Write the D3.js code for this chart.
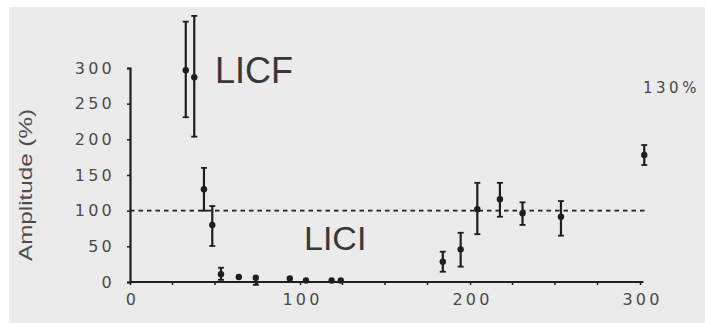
<!DOCTYPE html>
<html>
<head>
<meta charset="utf-8">
<script src="https://cdn.jsdelivr.net/npm/d3@7/dist/d3.min.js"></script>
<style>
  html, body { margin: 0; padding: 0; background: #fff; }
  svg { display: block; }
</style>
</head>
<body>
<svg id="chart" width="705" height="323"></svg>
<script>
// Interstimulus interval (ms) for each measurement
const intervals  = [32.8, 37.8, 43.5, 48.4, 53.5, 64, 74, 94, 103.5, 118.6, 124, 184, 194.5, 204.3, 217.6, 230.9, 253.5, 302.5];
// Mean amplitude (% of test response)
const amplitudes = [297, 287, 130, 80, 11, 7, 6, 5, 2, 2, 2, 28.5, 45.8, 102, 116, 96.3, 91.5, 178];
// Upper and lower ends of each error bar
const errHigh    = [365, 373, 160, 106.5, 20, 10, 9, 7, 3, 3, 3, 42.5, 69, 139, 139, 111.7, 113.5, 192];
const errLow     = [231, 203.7, 100, 50.5, 3, 4, -4, 3, 1, 1, 1, 14.4, 21.5, 67, 91.5, 80, 65, 164];

const xTicks = [0, 100, 200, 300];
const xMinorTicks = [25, 50, 75, 125, 150, 175, 225, 250, 275];
const yTicks = [0, 50, 100, 150, 200, 250, 300];
const baseline = 100;

const svg = d3.select("#chart");

// panel background
svg.append("rect")
  .attr("x", 9).attr("y", 7).attr("width", 696).attr("height", 316)
  .attr("fill", "#ebebeb");

const x = d3.scaleLinear().domain([0, 300]).range([130, 640]);
const y = d3.scaleLinear().domain([0, 300]).range([282, 68]);

const ink = "#1e1e1e";
const tickFont = "'DejaVu Sans', sans-serif";

// y axis
const yAxis = svg.append("g")
  .attr("transform", `translate(${x(0)},0)`)
  .call(d3.axisLeft(y).tickValues(yTicks).tickSize(3).tickPadding(12));
yAxis.select(".domain").attr("stroke", ink).attr("stroke-width", 2.2);
yAxis.selectAll(".tick line").attr("stroke", ink).attr("stroke-width", 1.5);
yAxis.selectAll(".tick text")
  .attr("font-family", tickFont).attr("font-size", 16)
  .attr("letter-spacing", 3.2).attr("fill", "#4a4a4a");

// x axis
const xAxis = svg.append("g")
  .attr("transform", `translate(0,${y(0)})`)
  .call(d3.axisBottom(x).tickValues(xTicks).tickSize(3).tickPadding(9));
xAxis.select(".domain").remove();
xAxis.append("line")
  .attr("x1", x(0)).attr("x2", x(302))
  .attr("stroke", ink).attr("stroke-width", 2);
xAxis.selectAll(".tick line").attr("stroke", ink).attr("stroke-width", 1.5);
xAxis.selectAll(".tick text")
  .attr("font-family", tickFont).attr("font-size", 16)
  .attr("letter-spacing", 3.2).attr("fill", "#4a4a4a")
  .attr("dx", 2);
xAxis.selectAll(".minor")
  .data(xMinorTicks).enter().append("line")
  .attr("x1", d => x(d)).attr("x2", d => x(d))
  .attr("y1", 0).attr("y2", 3)
  .attr("stroke", ink).attr("stroke-width", 1.5);

// 100% reference line
svg.append("line")
  .attr("x1", x(0)).attr("x2", x(304))
  .attr("y1", y(baseline)).attr("y2", y(baseline))
  .attr("stroke", ink).attr("stroke-width", 1.7)
  .attr("stroke-dasharray", "4.5,4");

// error bars and means
const pts = intervals.map((v, i) => ({ t: v, a: amplitudes[i], hi: errHigh[i], lo: errLow[i] }));
const g = svg.append("g");
const bars = g.selectAll("g.pt").data(pts).enter().append("g").attr("class", "pt");
bars.append("line")
  .attr("x1", d => x(d.t)).attr("x2", d => x(d.t))
  .attr("y1", d => y(d.hi)).attr("y2", d => y(d.lo))
  .attr("stroke", ink).attr("stroke-width", 2.2);
bars.filter(d => d.hi - d.a > 4).append("line")
  .attr("x1", d => x(d.t) - 3).attr("x2", d => x(d.t) + 3)
  .attr("y1", d => y(d.hi)).attr("y2", d => y(d.hi))
  .attr("stroke", ink).attr("stroke-width", 1.8);
bars.filter(d => d.a - d.lo > 4).append("line")
  .attr("x1", d => x(d.t) - 3).attr("x2", d => x(d.t) + 3)
  .attr("y1", d => y(d.lo)).attr("y2", d => y(d.lo))
  .attr("stroke", ink).attr("stroke-width", 1.8);
bars.append("circle")
  .attr("cx", d => x(d.t)).attr("cy", d => y(d.a))
  .attr("r", 3.2).attr("fill", ink);

// axis title
svg.append("text")
  .attr("transform", "translate(32,185) rotate(-90)")
  .attr("text-anchor", "middle")
  .attr("font-family", "'Liberation Sans', Arial, sans-serif")
  .attr("font-size", 19)
  .attr("textLength", 152).attr("lengthAdjust", "spacingAndGlyphs")
  .attr("fill", "#4d4d4d")
  .text("Amplitude (%)");

// series labels
svg.append("text")
  .attr("x", 215).attr("y", 83)
  .attr("font-family", "'Liberation Sans', Arial, sans-serif")
  .attr("font-size", 36).attr("fill", "#383838")
  .text("LICF");
svg.append("text")
  .attr("x", 304).attr("y", 250)
  .attr("font-family", "'Liberation Sans', Arial, sans-serif")
  .attr("font-size", 34).attr("fill", "#383838")
  .text("LICI");

// off-scale annotation
svg.append("text")
  .attr("x", 643).attr("y", 93)
  .attr("font-family", tickFont).attr("font-size", 15)
  .attr("letter-spacing", 3.5).attr("fill", "#4a4a4a")
  .text("130%");
</script>
</body>
</html>
